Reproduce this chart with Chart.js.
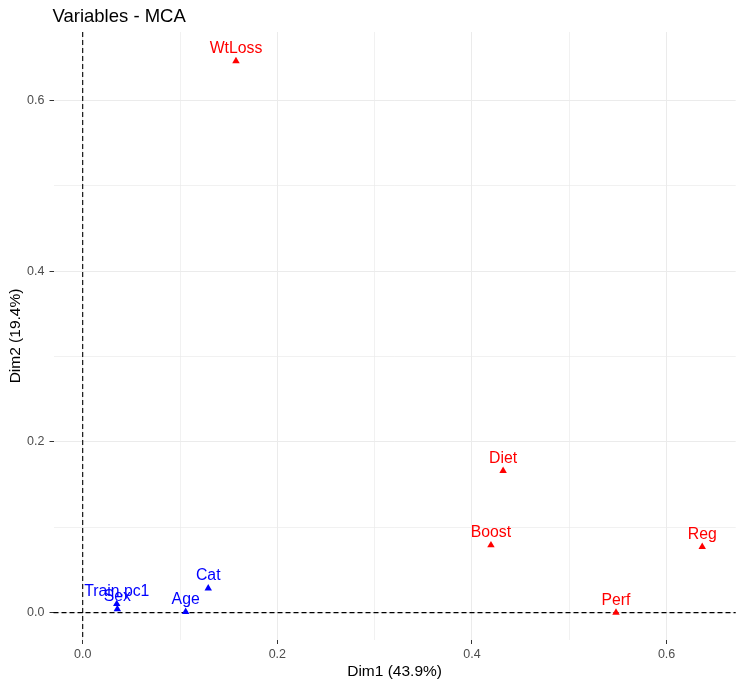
<!DOCTYPE html>
<html>
<head>
<meta charset="utf-8">
<title>Variables - MCA</title>
<script src="https://cdn.jsdelivr.net/npm/chart.js@4.4.1/dist/chart.umd.min.js"></script>
<style>
    body { margin: 0; background: #ffffff; }
    canvas { display: block; }
</style>
</head>
<body>
<canvas id="mca-chart" width="740" height="685"></canvas>
<script>
// Variables activas (rojo)
const activeNames = ['WtLoss', 'Diet', 'Boost', 'Reg', 'Perf'];
const activeDim1 = [0.1575, 0.432, 0.4195, 0.6366, 0.548];
const activeDim2 = [0.646, 0.166, 0.079, 0.077, 0.000];

// Variables suplementarias (azul)
const suppNames = ['Cat', 'Age', 'Train.pc1', 'Sex'];
const suppDim1 = [0.129, 0.1058, 0.035, 0.0356];
const suppDim2 = [0.0286, 0.001, 0.0102, 0.0043];

// Ejes
const xTicks = [0, 0.1, 0.2, 0.3, 0.4, 0.5, 0.6];
const yTicks = [0, 0.1, 0.2, 0.3, 0.4, 0.5, 0.6];
const majorTicks = [0, 0.2, 0.4, 0.6];
const xLimits = [-0.030, 0.671];
const yLimits = [-0.032, 0.680];

const FONT = '"Liberation Sans", Arial, sans-serif';

const toPoints = (xs, ys) => xs.map((x, i) => ({ x: x, y: ys[i] }));
const isMajor = v => majorTicks.some(m => Math.abs(m - v) < 1e-9);

// Título alineado con el panel
const titlePlugin = {
    id: 'panelTitle',
    afterDraw(chart) {
        const { ctx, chartArea } = chart;
        ctx.save();
        ctx.fillStyle = '#000000';
        ctx.font = '18.5px ' + FONT;
        ctx.textAlign = 'left';
        ctx.textBaseline = 'alphabetic';
        ctx.fillText('Variables - MCA', chartArea.left - 1, 21.5);
        ctx.restore();
    }
};

// Líneas discontinuas en x = 0 e y = 0
const zeroLinesPlugin = {
    id: 'zeroLines',
    beforeDatasetsDraw(chart) {
        const { ctx, chartArea, scales } = chart;
        const x0 = scales.x.getPixelForValue(0);
        const y0 = scales.y.getPixelForValue(0);
        ctx.save();
        ctx.strokeStyle = '#000000';
        ctx.lineWidth = 1.1;
        ctx.setLineDash([5, 3]);
        ctx.beginPath();
        ctx.moveTo(x0, chartArea.top);
        ctx.lineTo(x0, chartArea.bottom);
        ctx.moveTo(chartArea.left, y0);
        ctx.lineTo(chartArea.right, y0);
        ctx.stroke();
        ctx.restore();
    }
};

// Etiquetas de texto encima de cada punto
const pointLabelsPlugin = {
    id: 'pointLabels',
    afterDatasetsDraw(chart) {
        const { ctx } = chart;
        ctx.save();
        ctx.font = '15.8px ' + FONT;
        ctx.textAlign = 'center';
        ctx.textBaseline = 'alphabetic';
        chart.data.datasets.forEach((ds, di) => {
            const meta = chart.getDatasetMeta(di);
            ctx.fillStyle = ds.backgroundColor;
            meta.data.forEach((el, i) => {
                ctx.fillText(ds.names[i], el.x, el.y - 8);
            });
        });
        ctx.restore();
    }
};

const axisOptions = (ticksList, limits, titleText, isX) => ({
    type: 'linear',
    min: limits[0],
    max: limits[1],
    afterBuildTicks: scale => {
        scale.ticks = ticksList.map(v => ({ value: v }));
    },
    afterFit: scale => {
        if (isX) {
            scale.height = 45;
        } else {
            scale.width = 53.5;
        }
    },
    border: { display: false },
    grid: {
        color: '#EBEBEB',
        lineWidth: ctx => (ctx.tick && isMajor(ctx.tick.value) ? 1 : 0.7),
        drawTicks: true,
        tickLength: 4,
        tickWidth: 1,
        tickColor: ctx => (ctx.tick && isMajor(ctx.tick.value) ? '#333333' : 'rgba(0,0,0,0)')
    },
    ticks: {
        autoSkip: false,
        maxRotation: 0,
        padding: isX ? 3.5 : 5,
        color: '#4D4D4D',
        font: { family: FONT, size: 12.5 },
        callback: value => (isMajor(value) ? value.toFixed(1) : '')
    },
    title: {
        display: true,
        text: titleText,
        color: '#000000',
        font: { family: FONT, size: 15.5 },
        padding: isX ? { top: 0, bottom: 3.5 } : { top: 6, bottom: 0 }
    }
});

const ctx = document.getElementById('mca-chart').getContext('2d');
const mcaChart = new Chart(ctx, {
    type: 'scatter',
    data: {
        datasets: [
            {
                label: 'Activas',
                names: activeNames,
                data: toPoints(activeDim1, activeDim2),
                backgroundColor: '#FF0000',
                borderColor: '#FF0000',
                pointStyle: 'triangle',
                pointRadius: 4.3,
                borderWidth: 0
            },
            {
                label: 'Suplementarias',
                names: suppNames,
                data: toPoints(suppDim1, suppDim2),
                backgroundColor: '#0000FF',
                borderColor: '#0000FF',
                pointStyle: 'triangle',
                pointRadius: 4.3,
                borderWidth: 0
            }
        ]
    },
    options: {
        responsive: false,
        animation: false,
        layout: { padding: { top: 32, right: 4, bottom: 0, left: 0 } },
        plugins: {
            legend: { display: false },
            tooltip: { enabled: false }
        },
        scales: {
            x: axisOptions(xTicks, xLimits, 'Dim1 (43.9%)', true),
            y: axisOptions(yTicks, yLimits, 'Dim2 (19.4%)', false)
        }
    },
    plugins: [zeroLinesPlugin, pointLabelsPlugin, titlePlugin]
});
</script>
</body>
</html>
